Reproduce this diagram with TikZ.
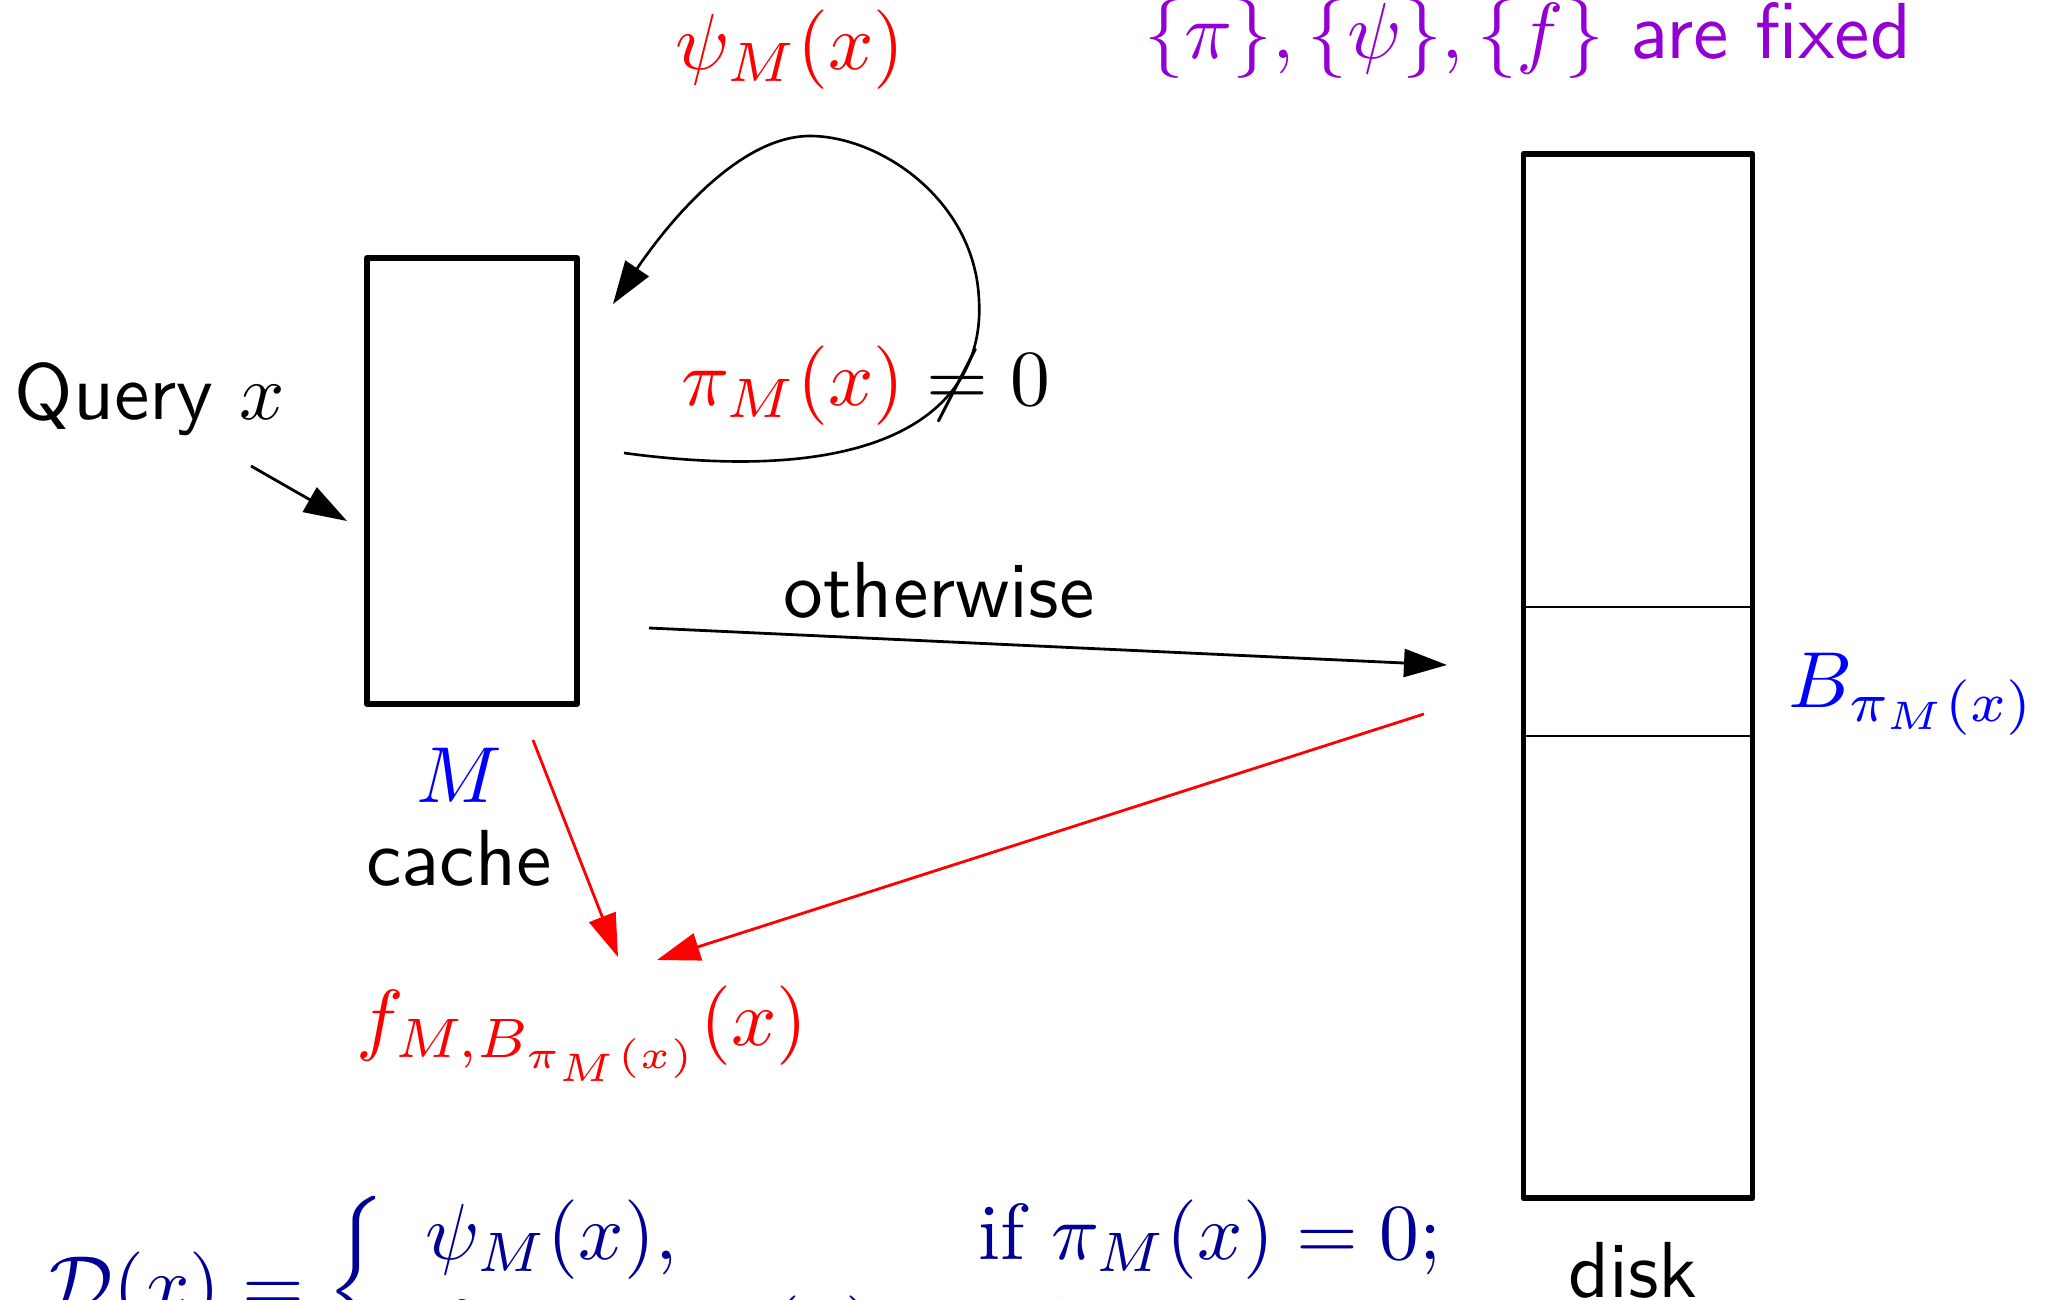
\documentclass[tikz,border=0pt]{standalone}
\usepackage{amsmath}
\usepackage{amssymb}
\usepackage{tikz}
\usetikzlibrary{
    arrows.meta
}

\definecolor{fixedviolet}{RGB}{148,0,211}
\definecolor{formulablue}{RGB}{0,0,150}

\tikzset{
    lbl/.style={scale=2.26},
    cachebox/.style={draw, line width=1.6pt, line join=round, inner sep=0pt,
        minimum width=2.1cm, minimum height=4.46cm},
    diskbox/.style={draw, line width=1.6pt, line join=round, inner sep=0pt,
        minimum width=2.29cm, minimum height=10.44cm},
    flow/.style={-{Triangle[length=4.3mm,width=2.8mm]}, line width=0.8pt},
    redflow/.style={flow, red}
}

\begin{document}
\begin{tikzpicture}[x=0.01cm, y=-0.01cm]

\useasboundingbox (0,0) rectangle (2053,1300);
\clip (0,0) rectangle (2053,1300);

% Cache
\node[cachebox] (cache) at (472,481) {};
\node[lbl, text=blue] (mlabel) at (459,775) {$M$};
\node[lbl] (cachelabel) at (459,858) {\sffamily cache};

% Disk
\node[diskbox] (disk) at (1638,676) {};
\draw[line width=0.8pt] (disk.west |- 0,607) -- (disk.east |- 0,607);
\draw[line width=0.8pt] (disk.west |- 0,736) -- (disk.east |- 0,736);
\node[lbl, text=blue] (block) at (1912,694) {$B_{\pi_M(x)}$};
\node[lbl] (disklabel) at (1633,1270) {\sffamily disk};

% Query
\node[lbl] (query) at (150,399) {\sffamily Query $x$};
\coordinate (qstart) at (251,466);
\coordinate (qend) at (347,521);
\draw[flow] (qstart) -- (qend);

% Hit: loop back into the cache
\node[lbl, text=red] (psilabel) at (790,50) {$\psi_M(x)$};
\node[lbl] (cond) at (866,386) {$\textcolor{red}{\pi_M(x)} \neq 0$};
\coordinate (loopstart) at (624,453);
\coordinate (loopend) at (613,304);
\draw[flow, line width=0.75pt] (loopstart)
    .. controls (900,490) and (985,400) .. (979,300)
    .. controls (975,200) and (880,136) .. (810,136)
    .. controls (740,136) and (670,220) .. (loopend);

% Miss: go to the disk
\node[lbl] (otherwise) at (939,590) {\sffamily otherwise};
\coordinate (ostart) at (649,628);
\coordinate (oend) at (1447,665);
\draw[flow] (ostart) -- (oend);

% Result
\node[lbl, text=red] (result) at (582,1034) {$f_{M,B_{\pi_M(x)}}(x)$};
\coordinate (dstart) at (1424,714);
\coordinate (dend) at (657,960);
\coordinate (cstart) at (533,740);
\coordinate (cend) at (618,957);
\draw[redflow] (dstart) -- (dend);
\draw[redflow] (cstart) -- (cend);

% Note
\node[lbl, text=fixedviolet] (note) at (1528,39) {$\{\pi\}, \{\psi\}, \{f\}$ \sffamily are fixed};

% Definition
\node[lbl, text=formulablue, anchor=west, inner sep=0pt] (defn) at (48,1292)
    {$\mathcal{D}(x) = \left\{\begin{array}{ll} \psi_M(x), & \text{if } \pi_M(x) = 0;\\
     f_{M,B_{\pi_M(x)}}(x), & \text{otherwise} \end{array}\right.$};

\end{tikzpicture}
\end{document}
